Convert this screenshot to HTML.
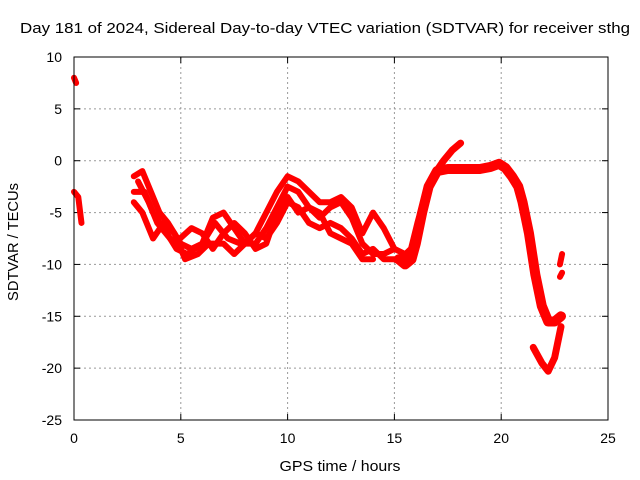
<!DOCTYPE html>
<html><head><meta charset="utf-8"><style>
body{margin:0;background:#fff}
svg{display:block;font-family:"Liberation Sans",sans-serif}
</style></head><body>
<svg id="chart" width="640" height="480">
<text x="325" y="33" text-anchor="middle" font-size="15" textLength="610" lengthAdjust="spacingAndGlyphs">Day 181 of 2024, Sidereal Day-to-day VTEC variation (SDTVAR) for receiver sthg</text>
<text x="340" y="471" text-anchor="middle" font-size="15" textLength="121" lengthAdjust="spacingAndGlyphs">GPS time / hours</text>
<text transform="translate(18,242) rotate(-90)" text-anchor="middle" font-size="15" textLength="118" lengthAdjust="spacingAndGlyphs">SDTVAR / TECUs</text>
<g id="grid"></g><g id="ticks"></g><g id="series"></g>
<rect x="74" y="57" width="534" height="363" fill="none" stroke="#000"/>
</svg>
<script>
const xTicks=[0,5,10,15,20,25];
const yTicks=[10,5,0,-5,-10,-15,-20,-25];
const s1=[[0,8],[0.1,7.5]];
const s2=[[0,-3],[0.2,-3.5],[0.35,-6]];
const s3=[[2.8,-1.5],[3.2,-1],[3.6,-3],[4,-5],[4.4,-6],[5,-8],[5.5,-8.5],[6,-8],[6.5,-5.5],[7,-5],[7.5,-6.5],[8,-8],[8.5,-7],[9,-5],[9.5,-3],[10,-1.5],[10.5,-2],[11,-3],[11.5,-4],[12,-4],[12.5,-3.5],[13,-4.5],[13.5,-7],[14,-5],[14.5,-6.5],[15,-8.5],[15.5,-9]];
const s4=[[2.8,-3],[3.3,-3],[3.7,-5],[4.2,-6.5],[4.8,-8.5],[5.3,-9],[6,-8],[6.6,-6],[7.2,-7.5],[7.8,-8],[8.5,-8],[9,-6.5],[9.5,-4.5],[10,-2.5],[10.5,-3],[11,-4.5],[11.5,-5.5],[12,-4.5],[12.5,-4],[13,-5.5],[13.5,-8],[14,-9],[14.5,-9],[15,-8.5]];
const s5=[[2.8,-4],[3.2,-5],[3.7,-7.5],[4.2,-6],[4.7,-7],[5.2,-9.5],[5.8,-9],[6.3,-8],[7,-8],[7.5,-9],[8,-8],[8.5,-7],[9,-7.5],[9.5,-6],[10,-4],[10.5,-4.5],[11,-6],[11.5,-6.5],[12,-6],[12.5,-6.5],[13,-7.5],[13.5,-9],[14,-8.5],[14.5,-9.5],[15,-9.5],[15.5,-10]];
const s6=[[3,-2],[3.5,-4],[3.9,-6],[4.3,-7],[4.7,-8],[5.5,-6.5],[6,-7],[6.5,-8.5],[7,-7],[7.5,-6],[8,-7],[8.5,-8.5],[9,-8],[9.5,-5],[10,-3.5],[10.5,-5],[11,-4.5],[11.5,-5],[12,-7],[12.5,-7.5],[13,-8],[13.5,-9.5],[14,-9.5]];
const s7=[[15.2,-9.5],[15.5,-10],[15.8,-9.5],[16,-8],[16.3,-5],[16.6,-2.5],[17,-1],[17.5,-0.8],[18,-0.8],[18.5,-0.8],[19,-0.8],[19.5,-0.6],[19.9,-0.3],[20.2,-0.7],[20.5,-1.5],[20.8,-2.5],[21,-4],[21.3,-7],[21.6,-11],[21.9,-14],[22.2,-15.5],[22.5,-15.5],[22.8,-15]];
const s8=[[15.4,-9.3],[15.8,-8.5],[16.1,-6],[16.5,-3],[16.8,-1.5],[17.3,0],[17.7,1],[18.1,1.7]];
const s9=[[21.5,-18],[21.9,-19.5],[22.2,-20.3],[22.5,-19],[22.8,-16]];
const s10=[[22.75,-10],[22.85,-9]];
const s11=[[22.75,-11.2],[22.85,-10.8]];
const allSeries=[s1,s2,s3,s4,s5,s6,s7,s8,s9,s10,s11];
const widths=[6,6,6,6,6,6,10,7,7,6,6];
const X=h=>74+h*534/25, Y=v=>57+(10-v)*363/35;
const NS="http://www.w3.org/2000/svg";
const grid=document.getElementById('grid'),ticks=document.getElementById('ticks'),ser=document.getElementById('series');
function mk(tag,attrs,parent){const e=document.createElementNS(NS,tag);for(const k in attrs)e.setAttribute(k,attrs[k]);parent.appendChild(e);return e;}
xTicks.forEach(t=>{const x=X(t);
 if(t>0&&t<25){const g=mk('line',{x1:x,x2:x,y1:57,y2:420,stroke:'#999','stroke-dasharray':'2,3'},grid);}
 mk('line',{x1:x,x2:x,y1:420,y2:414,stroke:'#000'},ticks);mk('line',{x1:x,x2:x,y1:57,y2:63,stroke:'#000'},ticks);
 const l=mk('text',{x:x,y:443,'text-anchor':'middle','font-size':14},ticks);l.textContent=t;
 });
yTicks.forEach(t=>{const y=Y(t);
 if(t<10&&t>-25){const g=mk('line',{x1:74,x2:608,y1:y,y2:y,stroke:'#999','stroke-dasharray':'2,3'},grid);}
 mk('line',{x1:74,x2:80,y1:y,y2:y,stroke:'#000'},ticks);mk('line',{x1:608,x2:602,y1:y,y2:y,stroke:'#000'},ticks);
 const l=mk('text',{x:62,y:y+5,'text-anchor':'end','font-size':14},ticks);l.textContent=t;
 });
allSeries.forEach((s,i)=>{const p=mk('polyline',{points:s.map(d=>X(d[0])+','+Y(d[1])).join(' '),fill:'none',stroke:'#f00','stroke-width':widths[i],'stroke-linejoin':'round','stroke-linecap':'round'},ser);
 
 });
</script>
</body></html>
